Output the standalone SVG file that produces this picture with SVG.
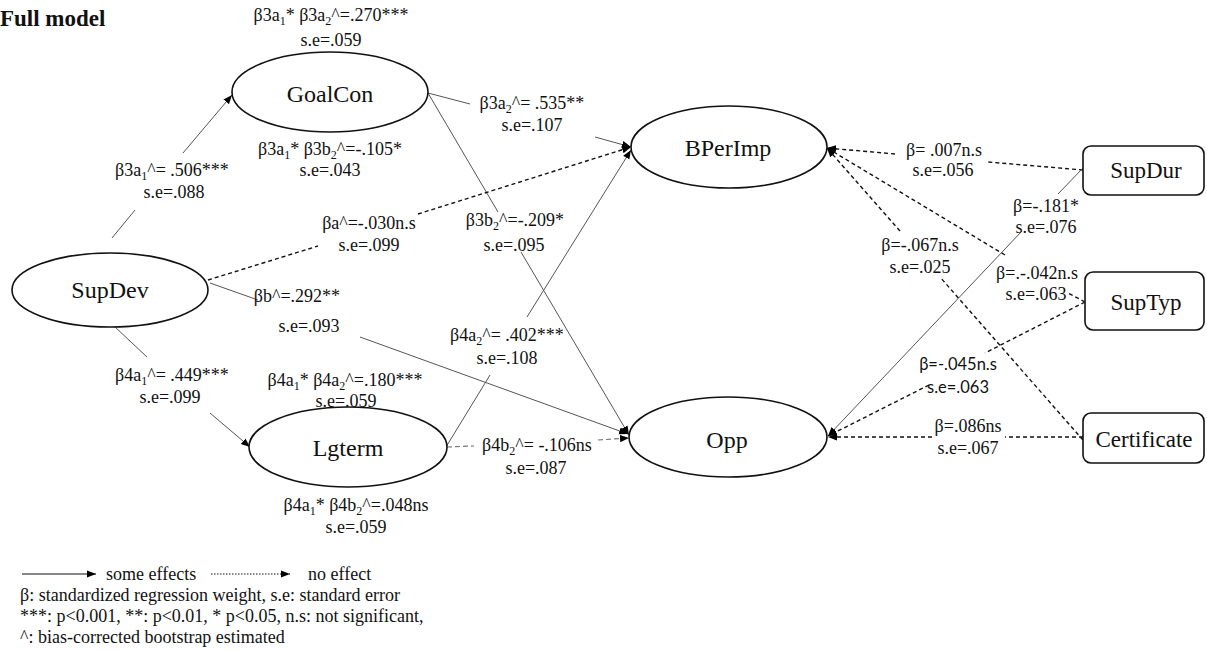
<svg xmlns="http://www.w3.org/2000/svg" width="1207" height="651" viewBox="0 0 1207 651">
<style>
.t{font-family:"Liberation Serif","Times New Roman",serif;fill:#111}
.lbl{font-size:18px;text-anchor:middle}
.node{font-size:24px;text-anchor:middle}
.box{font-size:23px;text-anchor:middle}
.leg{font-size:18px}
.sans{font-family:Lato,"Liberation Sans",sans-serif;font-size:16.5px;text-anchor:middle;fill:#111}
.shape{fill:#fff;stroke:#111;stroke-width:1.6}
.sol{stroke:#555;stroke-width:1;fill:none}
.dash{stroke:#111;stroke-width:1.4;stroke-dasharray:4 3;fill:none}
.dashg{stroke:#777;stroke-width:1.2;stroke-dasharray:5 3;fill:none}
.sub{font-size:12px}
</style>
<defs>
<marker id="ah" viewBox="0 0 10 10" refX="10" refY="5" markerWidth="9" markerHeight="9" markerUnits="userSpaceOnUse" orient="auto"><path d="M0,1 L10,5 L0,9 z" fill="#000"/></marker>
</defs>
<rect width="1207" height="651" fill="#fff"/>
<text class="t" x="0" y="26" font-size="23" font-weight="bold">Full model</text>

<g id="connectors">
<line class="sol" x1="112" y1="238" x2="135" y2="210"/>
<line class="sol" x1="183" y1="153" x2="232" y2="95" marker-end="url(#ah)"/>
<line class="sol" x1="428" y1="93" x2="470" y2="104"/>
<line class="sol" x1="595" y1="137" x2="631" y2="147" marker-end="url(#ah)"/>
<line class="sol" x1="428" y1="93" x2="498" y2="212"/>
<line class="sol" x1="521" y1="252" x2="629" y2="435" marker-end="url(#ah)"/>
<line class="dash" x1="208" y1="280" x2="318" y2="246"/>
<line class="dash" x1="418" y1="214" x2="631" y2="147" marker-end="url(#ah)"/>
<line class="sol" x1="210" y1="283" x2="258" y2="300"/>
<line class="sol" x1="360" y1="337" x2="628" y2="434" marker-end="url(#ah)"/>
<line class="sol" x1="115" y1="327" x2="147" y2="357"/>
<line class="sol" x1="210" y1="413" x2="250" y2="447" marker-end="url(#ah)"/>
<line class="sol" x1="446" y1="447" x2="490" y2="375"/>
<line class="sol" x1="527" y1="317" x2="631" y2="150" marker-end="url(#ah)"/>
<line class="dashg" x1="447" y1="447" x2="474" y2="446"/>
<line class="dashg" x1="598" y1="440" x2="629" y2="438" marker-end="url(#ah)"/>
<line class="dash" x1="1083" y1="170" x2="988" y2="162"/>
<line class="dash" x1="895" y1="154" x2="827" y2="148" marker-end="url(#ah)"/>
<line class="sol" x1="1083" y1="168" x2="1058" y2="194"/>
<line class="sol" x1="1022" y1="231" x2="828" y2="436" marker-end="url(#ah)"/>
<line class="dash" x1="1085" y1="302" x2="1068" y2="293"/>
<line class="dash" x1="1005" y1="255" x2="827" y2="148" marker-end="url(#ah)"/>
<line class="dash" x1="1085" y1="302" x2="985" y2="353"/>
<line class="dash" x1="929" y1="385" x2="828" y2="436" marker-end="url(#ah)"/>
<line class="dash" x1="1083" y1="440" x2="940" y2="277"/>
<line class="dash" x1="900" y1="231" x2="827" y2="148" marker-end="url(#ah)"/>
<line class="dash" x1="1083" y1="437" x2="1005" y2="437"/>
<line class="dash" x1="932" y1="437" x2="828" y2="437" marker-end="url(#ah)"/>
</g>

<g id="GoalCon"><ellipse class="shape" cx="330" cy="92" rx="98" ry="40"/><text class="t node" x="330" y="102">GoalCon</text></g>
<g id="BPerImp"><ellipse class="shape" cx="729" cy="147" rx="98" ry="41"/><text class="t node" x="728" y="156">BPerImp</text></g>
<g id="SupDev"><ellipse class="shape" cx="110" cy="290" rx="98" ry="37"/><text class="t node" x="110" y="298">SupDev</text></g>
<g id="Lgterm"><ellipse class="shape" cx="348" cy="447" rx="99" ry="40"/><text class="t node" x="348" y="456">Lgterm</text></g>
<g id="Opp"><ellipse class="shape" cx="728" cy="437" rx="99" ry="40"/><text class="t node" x="727" y="448">Opp</text></g>
<g id="SupDur"><rect class="shape" x="1083" y="146" width="121" height="49" rx="8"/><text class="t box" x="1146" y="178">SupDur</text></g>
<g id="SupTyp"><rect class="shape" x="1085" y="272" width="119" height="58" rx="8"/><text class="t box" x="1146" y="310">SupTyp</text></g>
<g id="Certificate"><rect class="shape" x="1083" y="413" width="121" height="50" rx="8"/><text class="t box" x="1144" y="447">Certificate</text></g>

<g id="labels">
<text class="t lbl" x="331" y="21">β3a<tspan class="sub" dy="4">1</tspan><tspan dy="-4">* β3a</tspan><tspan class="sub" dy="4">2</tspan><tspan dy="-4">^=.270***</tspan></text>
<text class="t lbl" x="331" y="46">s.e=.059</text>
<text class="t lbl" x="330" y="155">β3a<tspan class="sub" dy="4">1</tspan><tspan dy="-4">* β3b</tspan><tspan class="sub" dy="4">2</tspan><tspan dy="-4">^=-.105*</tspan></text>
<text class="t lbl" x="330" y="176">s.e=.043</text>
<text class="t lbl" x="172" y="176">β3a<tspan class="sub" dy="4">1</tspan><tspan dy="-4">^= .506***</tspan></text>
<text class="t lbl" x="174" y="198">s.e=.088</text>
<text class="t lbl" x="532" y="109">β3a<tspan class="sub" dy="4">2</tspan><tspan dy="-4">^= .535**</tspan></text>
<text class="t lbl" x="532" y="131">s.e=.107</text>
<text class="t lbl" x="369" y="229">βa^=-.030n.s</text>
<text class="t lbl" x="369" y="251">s.e=.099</text>
<text class="t lbl" x="515" y="226">β3b<tspan class="sub" dy="4">2</tspan><tspan dy="-4">^=-.209*</tspan></text>
<text class="t lbl" x="514" y="251">s.e=.095</text>
<text class="t lbl" x="297" y="302">βb^=.292**</text>
<text class="t lbl" x="309" y="332">s.e=.093</text>
<text class="t lbl" x="507" y="341">β4a<tspan class="sub" dy="4">2</tspan><tspan dy="-4">^= .402***</tspan></text>
<text class="t lbl" x="507" y="364">s.e=.108</text>
<text class="t lbl" x="172" y="381">β4a<tspan class="sub" dy="4">1</tspan><tspan dy="-4">^= .449***</tspan></text>
<text class="t lbl" x="170" y="403">s.e=.099</text>
<text class="t lbl" x="345" y="386">β4a<tspan class="sub" dy="4">1</tspan><tspan dy="-4">* β4a</tspan><tspan class="sub" dy="4">2</tspan><tspan dy="-4">^=.180***</tspan></text>
<text class="t lbl" x="346" y="407">s.e=.059</text>
<text class="t lbl" x="537" y="451">β4b<tspan class="sub" dy="4">2</tspan><tspan dy="-4">^= -.106ns</tspan></text>
<text class="t lbl" x="536" y="474">s.e=.087</text>
<text class="t lbl" x="356" y="511">β4a<tspan class="sub" dy="4">1</tspan><tspan dy="-4">* β4b</tspan><tspan class="sub" dy="4">2</tspan><tspan dy="-4">^=.048ns</tspan></text>
<text class="t lbl" x="356" y="533">s.e=.059</text>
<text class="t lbl" x="944" y="156">β= .007n.s</text>
<text class="t lbl" x="943" y="176">s.e=.056</text>
<text class="t lbl" x="1046" y="212">β=-.181*</text>
<text class="t lbl" x="1046" y="233">s.e=.076</text>
<text class="t lbl" x="920" y="251">β=-.067n.s</text>
<text class="t lbl" x="920" y="273">s.e=.025</text>
<text class="t lbl" x="1037" y="279">β=.-.042n.s</text>
<text class="t lbl" x="1036" y="300">s.e=.063</text>
<text class="sans" x="958" y="370">β=-.045n.s</text>
<text class="sans" x="958" y="393">s.e=.063</text>
<text class="t lbl" x="968" y="432">β=.086ns</text>
<text class="t lbl" x="968" y="454">s.e=.067</text>
</g>

<g id="legend">
<line x1="22" y1="574" x2="96" y2="574" stroke="#111" stroke-width="1.2" marker-end="url(#ah)"/>
<text class="t leg" x="106" y="580">some effects</text>
<line x1="211" y1="574" x2="290" y2="574" stroke="#111" stroke-width="1" stroke-dasharray="1.5 1.5" marker-end="url(#ah)"/>
<text class="t leg" x="308" y="580">no effect</text>
<text class="t leg" x="20" y="601">β: standardized regression weight, s.e: standard error</text>
<text class="t leg" x="20" y="622">***: p&lt;0.001, **: p&lt;0.01, * p&lt;0.05, n.s: not significant,</text>
<text class="t leg" x="20" y="643">^: bias-corrected bootstrap estimated</text>
</g>
</svg>
